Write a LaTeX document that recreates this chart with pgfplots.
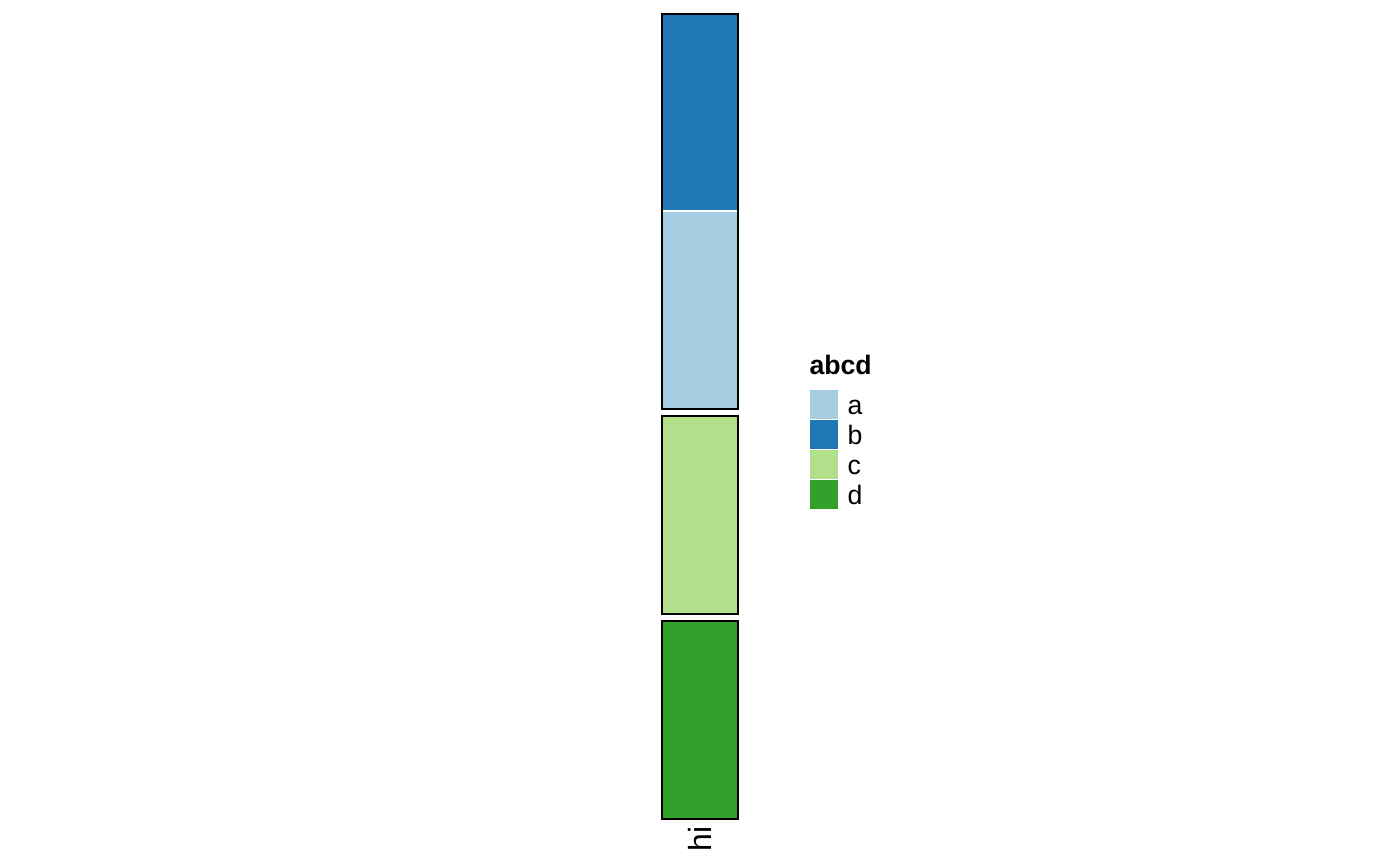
\documentclass[border=0pt]{standalone}
\usepackage{pgfplots}
\pgfplotsset{compat=1.18}
\usepackage{fontspec}
\setmainfont{Liberation Sans}
\definecolor{ca}{HTML}{A6CEE3}
\definecolor{cb}{HTML}{1F78B4}
\definecolor{cc}{HTML}{B2DF8A}
\definecolor{cd}{HTML}{33A02C}
\begin{document}
\begin{tikzpicture}
\begin{axis}[
  width=525pt, height=324.75pt, scale only axis,
  xmin=0, xmax=1400, ymin=0, ymax=866, y dir=reverse,
  axis lines=none, clip=false,
]
% full picture area (keeps the page at the reference's size)
\path[use as bounding box] (rel axis cs:0,0) rectangle (rel axis cs:1,1);
% heatmap cells (pixel coordinates of the column "hi")
\addplot[fill=cb, draw=none] coordinates {(662,14) (738,14) (738,211) (662,211)} -- cycle;
\addplot[fill=ca, draw=none] coordinates {(662,211) (738,211) (738,409) (662,409)} -- cycle;
\addplot[fill=cc, draw=none] coordinates {(662,416) (738,416) (738,614) (662,614)} -- cycle;
\addplot[fill=cd, draw=none] coordinates {(662,621) (738,621) (738,819) (662,819)} -- cycle;
% white separator between b and a
\addplot[draw=white, line width=0.5pt] coordinates {(662,211) (738,211)};
% slice borders
\addplot[draw=black, line width=0.75pt] coordinates {(662,14) (738,14) (738,409) (662,409)} -- cycle;
\addplot[draw=black, line width=0.75pt] coordinates {(662,416) (738,416) (738,614) (662,614)} -- cycle;
\addplot[draw=black, line width=0.75pt] coordinates {(662,621) (738,621) (738,819) (662,819)} -- cycle;
% column label
\node[rotate=90, anchor=east, font=\fontsize{12}{14}\selectfont, inner sep=0pt] at (axis cs:700,826) {hi};
% legend keys
\addplot[fill=ca, draw=white, line width=0.5pt] coordinates {(809.5,389.5) (838.5,389.5) (838.5,419.5) (809.5,419.5)} -- cycle;
\addplot[fill=cb, draw=white, line width=0.5pt] coordinates {(809.5,419.5) (838.5,419.5) (838.5,449.5) (809.5,449.5)} -- cycle;
\addplot[fill=cc, draw=white, line width=0.5pt] coordinates {(809.5,449.5) (838.5,449.5) (838.5,479.5) (809.5,479.5)} -- cycle;
\addplot[fill=cd, draw=white, line width=0.5pt] coordinates {(809.5,479.5) (838.5,479.5) (838.5,509.5) (809.5,509.5)} -- cycle;
\node[anchor=base west, inner sep=0pt, font=\fontsize{10}{12}\selectfont\bfseries] at (axis cs:809,374) {abcd};
\node[anchor=base west, inner sep=0pt, font=\fontsize{10}{12}\selectfont] at (axis cs:847,414) {a};
\node[anchor=base west, inner sep=0pt, font=\fontsize{10}{12}\selectfont] at (axis cs:847,444) {b};
\node[anchor=base west, inner sep=0pt, font=\fontsize{10}{12}\selectfont] at (axis cs:847,474) {c};
\node[anchor=base west, inner sep=0pt, font=\fontsize{10}{12}\selectfont] at (axis cs:847,504) {d};
\end{axis}
\end{tikzpicture}
\end{document}
